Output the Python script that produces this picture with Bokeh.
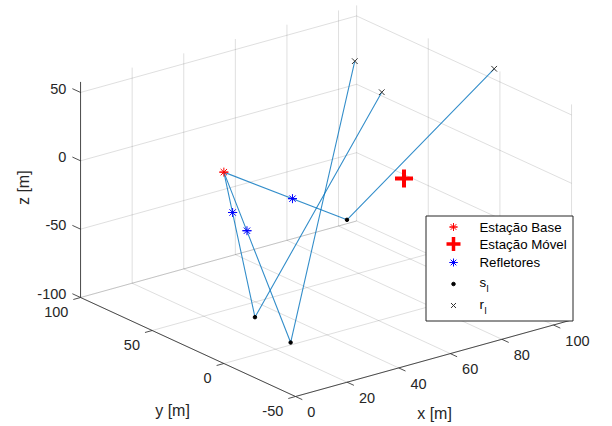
import numpy as np
from bokeh.plotting import figure
from bokeh.models import Range1d
from bokeh.core.properties import value
from bokeh.embed import file_html
from bokeh.resources import INLINE

# ---------------- data (3D, metres) ----------------
bs_x, bs_y, bs_z = [0.0], [0.0], [40.0]          # Estação Base
ms_x, ms_y, ms_z = [69.0], [-1.5], [0.0]         # Estação Móvel
refl_x = [4.9, 6.9, 30.6]                        # Refletores
refl_y = [2.7, -3.7, 7.2]
refl_z = [6.6, -4.7, 1.1]
s_x = [17.5, 20.0, 55.0]                         # s_l
s_y = [9.8, -10.6, 13.1]
s_z = [-80.0, -90.0, -30.0]
r_x = [80.2, 82.8, 107.0]                        # r_l
r_y = [34.2, 57.7, 4.0]
r_z = [40.0, 50.0, 57.7]

x_ticks = [0, 20, 40, 60, 80, 100]
y_ticks = [-50, 0, 50, 100]
z_ticks = [-100, -50, 0, 50]
xlim = (0.0, 107.0)
ylim = (-50.0, 100.0)
zlim = (-100.0, 57.7)

legend_labels = ["Estação Base", "Estação Móvel", "Refletores", "s", "r"]

# ---------------- view (orthographic projection, page pixels) ----------------
PAGE_W, PAGE_H = 612, 426
ORIGIN = np.array([295.0, 396.0])     # page position of (xmin, ymin, zmin)
EX = np.array([2.58, -0.715])         # page px per unit x
EY = np.array([-1.433, -0.66])        # page px per unit y
EZ = np.array([0.0, -1.367])          # page px per unit z


def proj(x, y, z):
    x = np.asarray(x, float); y = np.asarray(y, float); z = np.asarray(z, float)
    px = ORIGIN[0] + (x - xlim[0]) * EX[0] + (y - ylim[0]) * EY[0] + (z - zlim[0]) * EZ[0]
    py = ORIGIN[1] + (x - xlim[0]) * EX[1] + (y - ylim[0]) * EY[1] + (z - zlim[0]) * EZ[1]
    return px, py


def to_plot(px, py):
    return np.asarray(px, float), PAGE_H - np.asarray(py, float)


FONT = value("Liberation Sans")
AX_COL = "#262626"

p = figure(width=PAGE_W, height=PAGE_H, x_range=Range1d(0, PAGE_W), y_range=Range1d(0, PAGE_H),
           output_backend="svg", toolbar_location=None, min_border=0,
           x_axis_type=None, y_axis_type=None)
p.outline_line_color = None
p.background_fill_color = "white"
p.border_fill_color = "white"

# ---------------- grid ----------------
gxs, gys = [], []


def seg(a, b, xs, ys):
    px, py = proj([a[0], b[0]], [a[1], b[1]], [a[2], b[2]])
    X, Y = to_plot(px, py)
    xs.append(list(X)); ys.append(list(Y))


for xt in x_ticks:
    seg((xt, ylim[0], zlim[0]), (xt, ylim[1], zlim[0]), gxs, gys)
    seg((xt, ylim[1], zlim[0]), (xt, ylim[1], zlim[1]), gxs, gys)
for yt in y_ticks:
    seg((xlim[0], yt, zlim[0]), (xlim[1], yt, zlim[0]), gxs, gys)
    seg((xlim[1], yt, zlim[0]), (xlim[1], yt, zlim[1]), gxs, gys)
for zt in z_ticks:
    seg((xlim[0], ylim[1], zt), (xlim[1], ylim[1], zt), gxs, gys)
    seg((xlim[1], ylim[0], zt), (xlim[1], ylim[1], zt), gxs, gys)
p.multi_line(gxs, gys, line_color="#262626", line_alpha=0.15, line_width=1)

# ---------------- axes ----------------
axs, ays = [], []
seg((xlim[0], ylim[0], zlim[0]), (xlim[1], ylim[0], zlim[0]), axs, ays)
seg((xlim[0], ylim[0], zlim[0]), (xlim[0], ylim[1], zlim[0]), axs, ays)
seg((xlim[0], ylim[1], zlim[0]), (xlim[0], ylim[1], zlim[1]), axs, ays)


def unit(v):
    v = np.asarray(v, float)
    return v / np.hypot(*v)


ux = unit(-EY)   # x-tick direction
uy = unit(-EX)   # y-tick direction
uz = unit(EY)    # z-tick direction
TL = 7.5

tick_lbl = {"x": [], "y": [], "t": [], "al": []}


def add_tick(px, py, u, L, dx, dy, txt, align):
    ex, ey = px + u[0] * L, py + u[1] * L
    X, Y = to_plot([px, ex], [py, ey])
    axs.append(list(X)); ays.append(list(Y))
    lx, ly = to_plot(ex + dx, ey + dy)
    tick_lbl["x"].append(float(lx)); tick_lbl["y"].append(float(ly))
    tick_lbl["t"].append(txt); tick_lbl["al"].append(align)


for xt in x_ticks:
    px, py = proj(xt, ylim[0], zlim[0])
    add_tick(float(px), float(py), ux, TL, 5, 12.5, str(xt), "left")
for yt in y_ticks:
    px, py = proj(xlim[0], yt, zlim[0])
    add_tick(float(px), float(py), uy, TL, -5, 12.5, str(yt), "right")
for zt in z_ticks:
    px, py = proj(xlim[0], ylim[1], zt)
    add_tick(float(px), float(py), uz, 9, -6, 0, str(zt), "right")

p.multi_line(axs, ays, line_color=AX_COL, line_alpha=0.8, line_width=1)

for al in ("left", "right"):
    idx = [i for i, a in enumerate(tick_lbl["al"]) if a == al]
    p.text([tick_lbl["x"][i] for i in idx], [tick_lbl["y"][i] for i in idx],
           text=[tick_lbl["t"][i] for i in idx], text_font=FONT,
           text_font_size="14.5px", text_color=AX_COL,
           text_align=al, text_baseline="middle")

# axis labels
mx, my = proj((xlim[0] + xlim[1]) / 2, ylim[0], zlim[0])
X, Y = to_plot(mx + 1, my + 55)
p.text([X], [Y], text=["x [m]"], text_font=FONT, text_font_size="16px",
       text_color=AX_COL, text_align="center", text_baseline="middle")
mx, my = proj(xlim[0], (ylim[0] + ylim[1]) / 2, zlim[0])
X, Y = to_plot(mx - 15.5, my + 63.5)
p.text([X], [Y], text=["y [m]"], text_font=FONT, text_font_size="16px",
       text_color=AX_COL, text_align="center", text_baseline="middle")
mx, my = proj(xlim[0], ylim[1], (zlim[0] + zlim[1]) / 2)
X, Y = to_plot(mx - 57, my - 2)
p.text([X], [Y], text=["z [m]"], text_font=FONT, text_font_size="16px",
       text_color=AX_COL, text_align="center", text_baseline="middle", angle=np.pi / 2)

# ---------------- data marks ----------------
LINE_COL = "#0072BD"
pxs, pys = [], []
for i in range(len(s_x)):
    px, py = proj([bs_x[0], s_x[i], r_x[i]], [bs_y[0], s_y[i], r_y[i]], [bs_z[0], s_z[i], r_z[i]])
    X, Y = to_plot(px, py)
    pxs.append(list(X)); pys.append(list(Y))
p.multi_line(pxs, pys, line_color=LINE_COL, line_width=1.1, line_alpha=0.8)


def star(X, Y, color, size):
    p.scatter(X, Y, marker="asterisk", size=size, line_color=color, line_width=1)
    p.scatter(X, Y, marker="dash", size=size, line_color=color, line_width=1)


X, Y = to_plot(*proj(refl_x, refl_y, refl_z))
star(X, Y, "#0000FF", 9)
X, Y = to_plot(*proj(bs_x, bs_y, bs_z))
star(X, Y, "#FF0000", 9)
X, Y = to_plot(*proj(ms_x, ms_y, ms_z))
p.scatter(X, Y, marker="cross", size=18, line_color="#FF0000", line_width=4)
X, Y = to_plot(*proj(s_x, s_y, s_z))
p.scatter(X, Y, marker="circle", size=3.5, fill_color="black", line_color="black")
X, Y = to_plot(*proj(r_x, r_y, r_z))
p.scatter(X, Y, marker="x", size=8, line_color="#333333", line_width=1)

# ---------------- legend ----------------
LB = (425.5, 215.5, 572.5, 320.5)   # left, top, right, bottom (page px)
l, t = to_plot(LB[0], LB[1]); r, b = to_plot(LB[2], LB[3])
p.quad(left=[l], right=[r], top=[t], bottom=[b], fill_color="white",
       line_color=AX_COL, line_width=1)
MK_X = 453
TX_X = 479
row_y = [226.5, 244.0, 262.0, 281.5, 303.5]
mk_y = [226.5, 243.5, 262.0, 283.5, 305.0]


def py2(v):
    return PAGE_H - v


star([MK_X], [py2(mk_y[0])], "#FF0000", 8)
p.scatter([MK_X], [py2(mk_y[1])], marker="cross", size=14, line_color="#FF0000", line_width=3.5)
star([MK_X], [py2(mk_y[2])], "#0000FF", 8)
p.scatter([MK_X], [py2(mk_y[3])], marker="circle", size=3.5, fill_color="black", line_color="black")
p.scatter([MK_X], [py2(mk_y[4])], marker="x", size=7, line_color="#333333", line_width=1)

p.text([TX_X] * 5, [py2(v) for v in row_y], text=legend_labels, text_font=FONT,
       text_font_size="13.3px", text_color="black", text_align="left", text_baseline="middle")
# subscripts "l"
p.text([TX_X + 7.0, TX_X + 5.0], [py2(288.0), py2(310.0)], text=["l", "l"], text_font=FONT,
       text_font_size="9.5px", text_color="black", text_align="left", text_baseline="middle")

open("out.html", "w").write(file_html(p, INLINE))
